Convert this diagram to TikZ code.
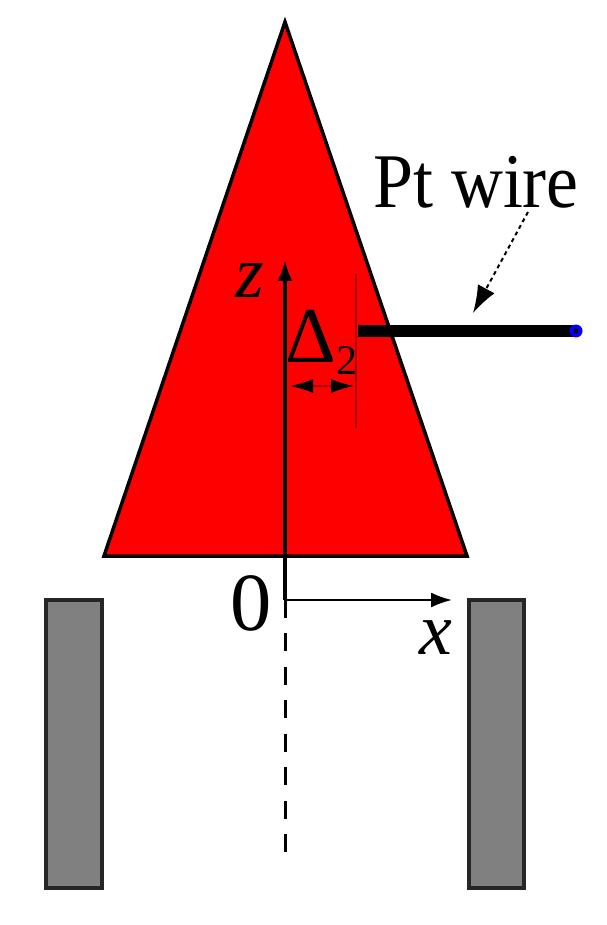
\documentclass[tikz,border=0pt]{standalone}
\usepackage{fontspec}
\setmainfont{Liberation Serif}
\usetikzlibrary{arrows.meta}
\tikzset{
	axisarrow/.style={-{Latex[length=0.42cm,width=0.3cm]}},
	label/.style={inner sep=0pt, text=black},
	slit/.style={draw=black!85, line width=0.065cm, fill=gray},
	gaptip/.tip={Latex[length=0.46cm,width=0.28cm,black]},
}
\begin{document}
\begin{tikzpicture}[x=0.02cm,y=-0.02cm]
	\useasboundingbox (0,0) rectangle (607,925);
	% cone and slits
	\filldraw[fill=red, line width=0.07cm, line join=miter] (285,22) -- (467,556) -- (104,556) -- cycle;
	\foreach \i\j in {46/102,469/524}{
		\filldraw[slit] (\i,600) rectangle (\j,888);
	}
	% axes
	\coordinate (orig) at (285,600);
	\coordinate (ztip) at (285,260);
	\coordinate (xtip) at (452,600);
	\coordinate (zend) at (285,858);
	\draw[axisarrow, line width=0.065cm] (orig) -- (ztip);
	\draw[axisarrow, line width=0.045cm] (orig) -- (xtip);
	\draw[line width=0.06cm, dash pattern=on 0.36cm off 0.31cm] (orig) -- (zend);
	\node[label, font=\fontsize{42}{42}\selectfont\itshape] (zlab) at (250,281) {z};
	\node[label, font=\fontsize{42}{42}\selectfont\itshape] (xlab) at (436,638) {x};
	\node[label, font=\fontsize{47}{47}\selectfont] (zero) at (251,603) {0};
	% wire
	\coordinate (wirel) at (358,331);
	\coordinate (wirer) at (576,331);
	\draw[line width=0.26cm] (wirel) -- (wirer);
	\node[circle, fill=blue, inner sep=0pt, minimum size=0.26cm] (wireend) at (wirer) {};
	\fill[black] (wireend.center) circle (0.05cm);
	\node[label, font=\fontsize{44}{44}\selectfont, xscale=0.93] (ptlab) at (476,182) {Pt wire};
	\coordinate (ptfoot) at (528,212);
	\coordinate (pttip) at (473,313);
	\draw[-{Latex[length=0.55cm,width=0.38cm]}, line width=0.04cm, dash pattern=on 0.08cm off 0.07cm] (ptfoot) -- (pttip);
	% offset
	\coordinate (guidet) at (356,274);
	\coordinate (guideb) at (356,428);
	\draw[red!65!black, line width=0.035cm] (guidet) -- (guideb);
	\node[label, font=\fontsize{45}{45}\selectfont] (delta) at (311,336) {Δ};
	\node[label, font=\fontsize{24}{24}\selectfont] (sub) at (347,361) {2};
	\coordinate (ml) at (290,386);
	\coordinate (mr) at (354,386);
	\draw[gaptip-gaptip, red!65!black, line width=0.03cm] (ml) -- (mr);
\end{tikzpicture}
\end{document}
